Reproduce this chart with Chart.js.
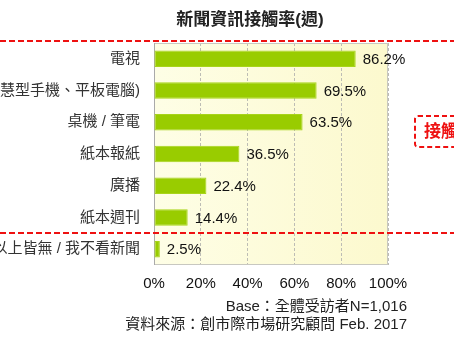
<!DOCTYPE html>
<html>
<head>
<meta charset="utf-8">
<script src="https://cdn.jsdelivr.net/npm/chart.js@4/dist/chart.umd.min.js"></script>
<style>
    html, body { margin: 0; padding: 0; background: #fff; }
    #wrap { width: 454px; height: 341px; }
</style>
</head>
<body>
<div id="wrap"><canvas id="newsChart" width="454" height="341"></canvas></div>
<script>
const categories = [
    '電視',
    '手機(智慧型手機、平板電腦)',
    '桌機 / 筆電',
    '紙本報紙',
    '廣播',
    '紙本週刊',
    '以上皆無 / 我不看新聞'
];
const reachRate = [86.2, 69.5, 63.5, 36.5, 22.4, 14.4, 2.5];
const xTicks = [0, 20, 40, 60, 80, 100];

const chartTitle = '新聞資訊接觸率(週)';
const footNotes = ['Base：全體受訪者N=1,016', '資料來源：創市際市場研究顧問 Feb. 2017'];
const sideTag = '接觸率';

const FONT = '"Liberation Sans", "Noto Sans CJK TC", sans-serif';

// plot background, frame, value labels and the red dashed markings
const decorations = {
    id: 'decorations',
    beforeDraw(chart) {
        const { ctx, chartArea: a } = chart;
        ctx.save();
        const g = ctx.createLinearGradient(a.left, 0, a.right, 0);
        g.addColorStop(0, '#fefee6');
        g.addColorStop(1, '#fcf9ce');
        ctx.fillStyle = g;
        ctx.fillRect(a.left, a.top, a.right - a.left, a.bottom - a.top);
        ctx.restore();
    },
    beforeDatasetsDraw(chart) {
        const { ctx, chartArea: a } = chart;
        ctx.save();
        ctx.strokeStyle = '#c8c8c0';
        ctx.lineWidth = 1;
        ctx.strokeRect(a.left + 0.5, a.top + 0.5, a.right - a.left - 1, a.bottom - a.top - 1);
        ctx.strokeStyle = '#aaaaaa';
        ctx.beginPath();
        ctx.moveTo(a.left + 0.5, a.top);
        ctx.lineTo(a.left + 0.5, a.bottom);
        ctx.stroke();
        ctx.restore();
    },
    afterDraw(chart) {
        const { ctx } = chart;
        const meta = chart.getDatasetMeta(0);
        ctx.save();

        // value labels
        ctx.font = '15px ' + FONT;
        ctx.fillStyle = '#111';
        ctx.textAlign = 'left';
        ctx.textBaseline = 'middle';
        meta.data.forEach((bar, i) => {
            ctx.fillText(reachRate[i].toFixed(1) + '%', bar.x + 7, bar.y + 1);
        });

        // title
        ctx.font = 'bold 17px ' + FONT;
        ctx.textAlign = 'center';
        ctx.fillStyle = '#222';
        ctx.fillText(chartTitle, 250, 20);

        // footnotes
        ctx.font = '15px ' + FONT;
        ctx.textAlign = 'right';
        ctx.fillText(footNotes[0], 407, 307);
        ctx.fillText(footNotes[1], 407, 325);

        // red dashed group lines
        ctx.strokeStyle = '#ee1111';
        ctx.lineWidth = 2;
        ctx.setLineDash([6, 3]);
        ctx.beginPath();
        ctx.moveTo(0, 41);
        ctx.lineTo(454, 41);
        ctx.moveTo(0, 233);
        ctx.lineTo(454, 233);
        ctx.stroke();

        // side tag box
        ctx.setLineDash([5, 3]);
        ctx.beginPath();
        ctx.roundRect(415, 116, 60, 31, 3);
        ctx.stroke();
        ctx.setLineDash([]);
        ctx.font = 'bold 17px ' + FONT;
        ctx.fillStyle = '#ee1111';
        ctx.textAlign = 'left';
        ctx.fillText(sideTag, 424, 132);

        ctx.restore();
    }
};

new Chart(document.getElementById('newsChart'), {
    type: 'bar',
    data: {
        labels: categories,
        datasets: [{
            data: reachRate,
            backgroundColor: '#99cc00',
            borderColor: '#a8d41a',
            borderWidth: 1,
            borderSkipped: false,
            categoryPercentage: 1,
            barPercentage: 0.52
        }]
    },
    options: {
        indexAxis: 'y',
        responsive: false,
        animation: false,
        layout: { padding: { top: 43, right: 66, bottom: 0, left: 0 } },
        plugins: {
            legend: { display: false },
            tooltip: { enabled: false }
        },
        scales: {
            x: {
                min: 0,
                max: 100,
                afterBuildTicks(scale) {
                    scale.ticks = xTicks.map(v => ({ value: v }));
                },
                afterFit(scale) {
                    scale.height = 76;
                },
                grid: {
                    color: '#bdbdb5',
                    drawTicks: false
                },
                border: { display: false, dash: [3, 2] },
                ticks: {
                    padding: 10,
                    color: '#111',
                    font: { size: 15, family: FONT },
                    callback: v => v + '%'
                }
            },
            y: {
                afterFit(scale) {
                    scale.width = 154;
                },
                grid: { display: false, drawTicks: false },
                border: { display: false },
                ticks: {
                    padding: 14,
                    color: '#333',
                    font: { size: 15, family: FONT }
                }
            }
        }
    },
    plugins: [decorations]
});
</script>
</body>
</html>
